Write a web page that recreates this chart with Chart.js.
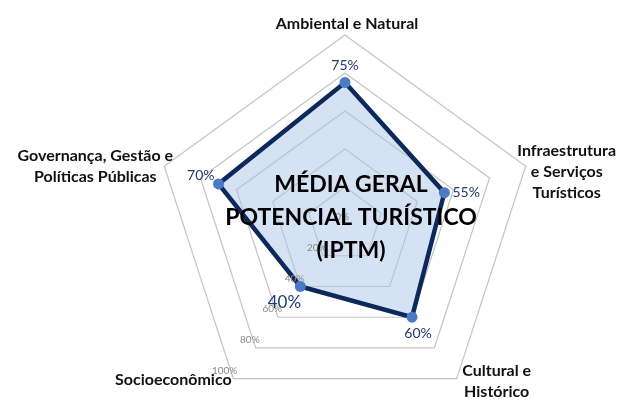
<!DOCTYPE html>
<html><head><meta charset="utf-8">
<script src="https://cdn.jsdelivr.net/npm/chart.js@4.4.0/dist/chart.umd.min.js"></script>
<style>
html,body{margin:0;padding:0;background:#fff;overflow:hidden;}
#wrap{position:relative;width:623px;height:440px;}
</style></head><body>
<div id="wrap"><canvas id="c"></canvas></div>
<script>
const categories = [["Ambiental e Natural"], ["Infraestrutura","e Serviços","Turísticos"], ["Cultural e","Histórico"], ["Socioeconômico"], ["Governança, Gestão e","Políticas Públicas"]];
const values = [75, 55, 60, 40, 70];
const valueLabels = ["75%", "55%", "60%", "40%", "70%"];
const tickValues = [0, 20, 40, 60, 80, 100];
const tickLabels = ["0%", "20%", "40%", "60%", "80%", "100%"];
const titleLines = ["MÉDIA GERAL", "POTENCIAL TURÍSTICO", "(IPTM)"];

// layout (offsets from each axis end, in px)
const catOffsets = [[2,-11],[41,6],[40,3],[-60,1],[-69,0]];
const valOffsets = [[0,-17,'center',14],[8,0,'left',14],[6,16,'center',14],[-16,16,'center',17],[-4,-8,'right',14]];

const overlay = {
  id: 'overlay',
  afterDraw(chart) {
    const ctx = chart.ctx, s = chart.scales.r;
    ctx.save();
    ctx.textBaseline = 'middle';
    // tick labels along Socioeconômico axis
    ctx.fillStyle = '#8a8a8a';
    ctx.font = '10px Lato, "Liberation Sans", sans-serif';
    ctx.textAlign = 'right';
    tickValues.forEach((v, i) => {
      const p = s.getPointPositionForValue(3, v);
      ctx.fillText(tickLabels[i], p.x + 4, p.y - 8);
    });
    // category labels
    ctx.fillStyle = '#111';
    ctx.font = 'bold 16px Lato, "Liberation Sans", sans-serif';
    ctx.textAlign = 'center';
    categories.forEach((lines, i) => {
      const p = s.getPointPosition(i, s.drawingArea);
      const lh = 21;
      const x = p.x + catOffsets[i][0];
      const y0 = p.y + catOffsets[i][1] - (lines.length - 1) * lh / 2;
      lines.forEach((t, k) => ctx.fillText(t, x, y0 + k * lh));
    });
    // value labels
    ctx.fillStyle = '#1f3a6e';
    values.forEach((v, i) => {
      const p = s.getPointPositionForValue(i, v);
      const o = valOffsets[i];
      ctx.font = o[3] + 'px Lato, "Liberation Sans", sans-serif';
      ctx.textAlign = o[2];
      ctx.fillText(valueLabels[i], p.x + o[0], p.y + o[1]);
    });
    // centre title
    ctx.fillStyle = '#000';
    ctx.font = 'bold 23px Lato, "Liberation Sans", sans-serif';
    ctx.textAlign = 'center';
    const lh = 33;
    titleLines.forEach((t, k) => ctx.fillText(t, s.xCenter + 6, s.yCenter - 40 + k * lh));
    ctx.restore();
  }
};

new Chart(document.getElementById('c'), {
  type: 'radar',
  data: {
    labels: categories,
    datasets: [{
      data: values,
      borderColor: '#0c295c',
      borderWidth: 4.5,
      backgroundColor: 'rgba(172,197,233,0.5)',
      fill: true,
      pointBackgroundColor: '#4a7cc6',
      pointBorderColor: '#4a7cc6',
      pointRadius: 5.5,
      pointBorderWidth: 0
    }]
  },
  options: {
    responsive: true,
    maintainAspectRatio: false,
    animation: false,
    layout: { padding: { top: 35, bottom: 25, left: 152, right: 85 } },
    plugins: { legend: { display: false }, tooltip: { enabled: false } },
    scales: {
      r: {
        min: 0, max: 100,
        ticks: { stepSize: 20, display: false },
        grid: { color: '#c4c4c4', lineWidth: 1.2 },
        angleLines: { display: false },
        pointLabels: { display: false }
      }
    }
  },
  plugins: [overlay]
});
</script>
</body></html>
